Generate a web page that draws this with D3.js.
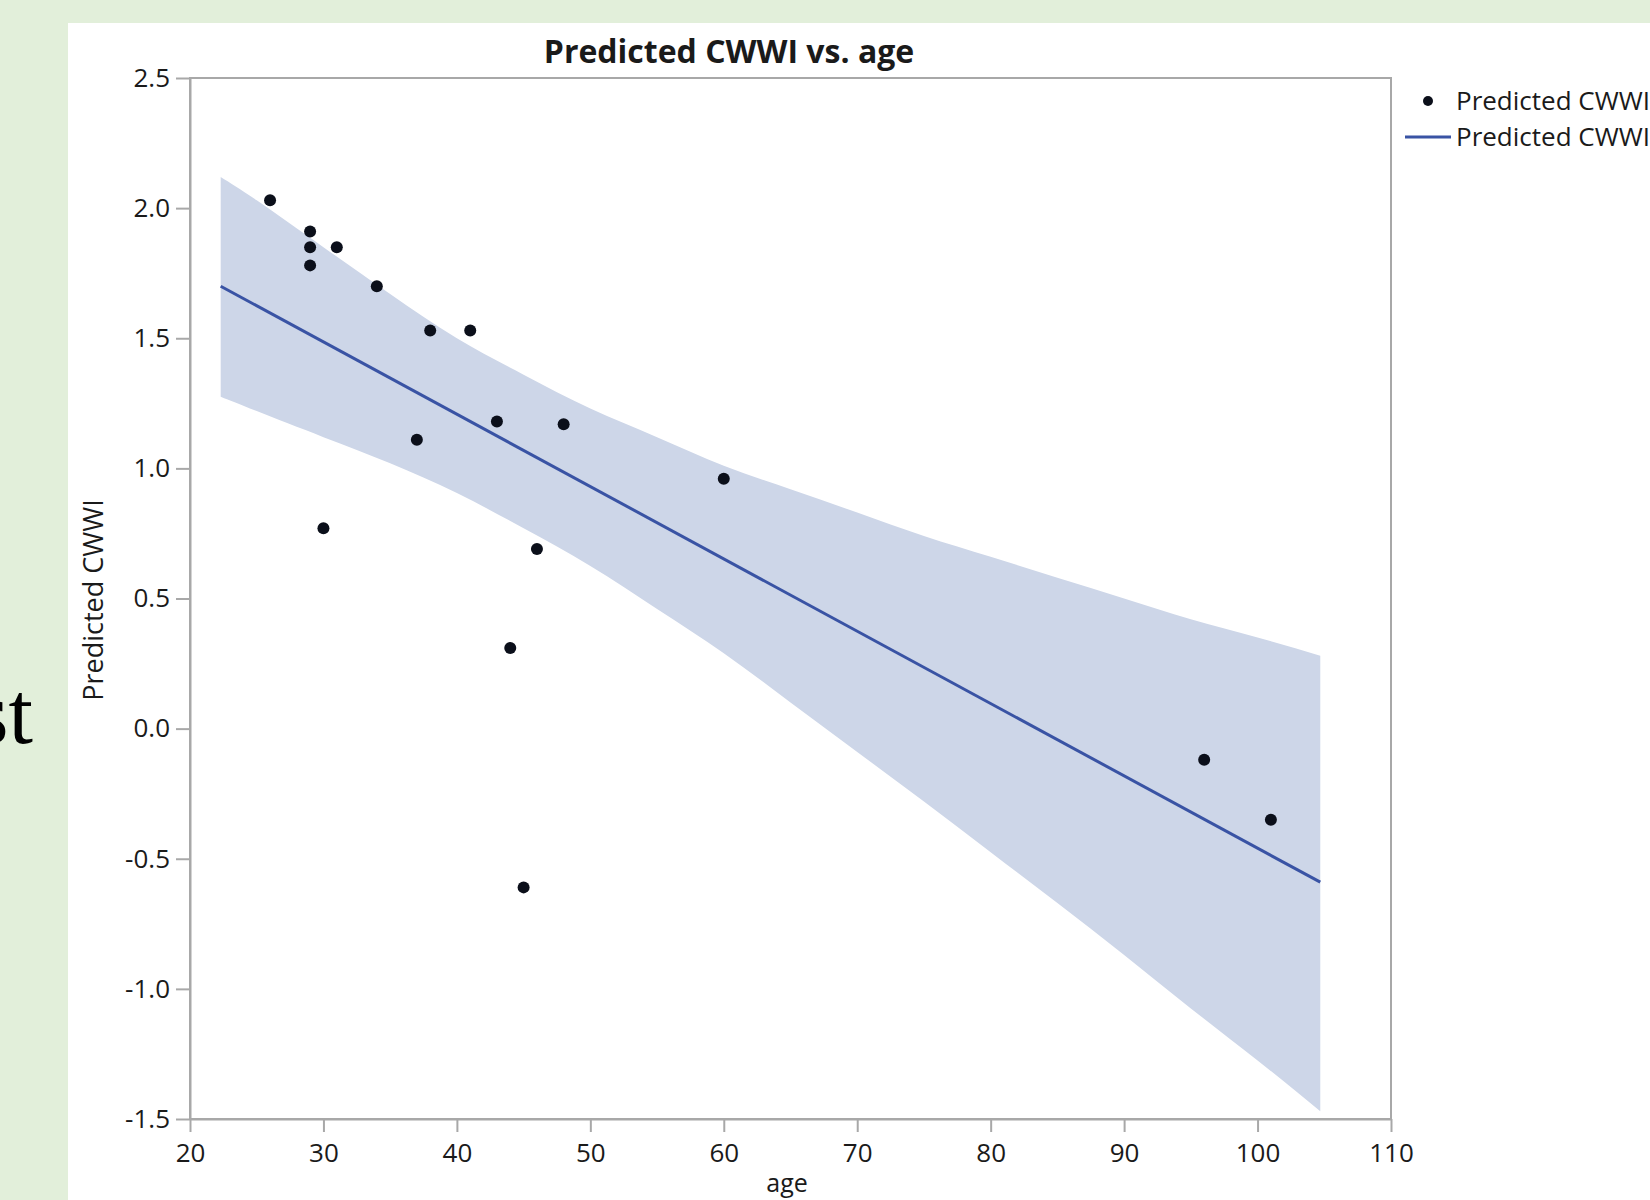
<!DOCTYPE html>
<html>
<head>
<meta charset="utf-8">
<script src="https://cdn.jsdelivr.net/npm/d3@7"></script>
<style>
  body { margin: 0; }
  svg text { font-family: "Open Sans", "Noto Sans", sans-serif; fill: #1a1a1a; }
</style>
</head>
<body>
<svg width="1650" height="1200"></svg>
<script>
// **** Data ****

var ages = [26, 29, 29, 29, 31, 34, 38, 41, 37, 43, 48, 60, 30, 46, 44, 45, 96, 101];
var cwwi = [2.03, 1.91, 1.85, 1.78, 1.85, 1.70, 1.53, 1.53, 1.11, 1.18, 1.17, 0.96, 0.77, 0.69, 0.31, -0.61, -0.12, -0.35];

// fitted line end points
var fitAges = [22.3, 104.7];
var fitValues = [1.70, -0.59];

// confidence band, read every 5 years
var bandAges  = [22.3, 25, 30, 35, 40, 45, 50, 55, 60, 65, 70, 75, 80, 85, 90, 95, 100, 104.7];
var bandUpper = [2.12, 2.03, 1.85, 1.67, 1.50, 1.36, 1.23, 1.12, 1.01, 0.92, 0.83, 0.74, 0.66, 0.58, 0.50, 0.42, 0.35, 0.28];
var bandLower = [1.275, 1.22, 1.12, 1.02, 0.905, 0.77, 0.625, 0.46, 0.29, 0.10, -0.09, -0.28, -0.475, -0.67, -0.87, -1.075, -1.275, -1.47];

var xTicks = [20, 30, 40, 50, 60, 70, 80, 90, 100, 110];
var yTicks = [-1.5, -1.0, -0.5, 0.0, 0.5, 1.0, 1.5, 2.0, 2.5];

// **** Scales ****

var xScale = d3.scaleLinear().domain([20, 110]).range([190, 1391]);
var yScale = d3.scaleLinear().domain([-1.5, 2.5]).range([1119, 78]);

var svg = d3.select("svg");

// slide background + white graph panel
svg.append("rect")
    .attr("width", 1650)
    .attr("height", 1200)
    .style("fill", "#e2efda");

svg.append("rect")
    .attr("x", 68)
    .attr("y", 23)
    .attr("width", 1582)
    .attr("height", 1177)
    .style("fill", "#ffffff");

// leftover slide text on the left
svg.append("text")
    .attr("x", 33)
    .attr("y", 743)
    .attr("text-anchor", "end")
    .style("font-family", "'Liberation Serif', serif")
    .style("font-size", "88px")
    .style("fill", "#000")
    .text("st");

// **** Band, line and points ****

var band = bandAges.map(function(a, i) { return { age: a, lo: bandLower[i], hi: bandUpper[i] }; });

svg.append("path")
    .datum(band)
    .attr("d", d3.area()
        .curve(d3.curveNatural)
        .x(function(d) { return xScale(d.age); })
        .y0(function(d) { return yScale(d.lo); })
        .y1(function(d) { return yScale(d.hi); }))
    .style("fill", "#cdd6e8");

var fit = fitAges.map(function(a, i) { return { age: a, v: fitValues[i] }; });

svg.append("path")
    .datum(fit)
    .attr("d", d3.line()
        .x(function(d) { return xScale(d.age); })
        .y(function(d) { return yScale(d.v); }))
    .style("fill", "none")
    .style("stroke", "#3953a4")
    .style("stroke-width", 3);

var points = ages.map(function(a, i) { return { age: a, v: cwwi[i] }; });

svg.selectAll("circle.pt")
    .data(points)
    .enter()
    .append("circle")
    .attr("class", "pt")
    .attr("cx", function(d) { return xScale(d.age); })
    .attr("cy", function(d) { return yScale(d.v); })
    .attr("r", 6)
    .style("fill", "#0b0f1a");

// **** Axes and frame ****

svg.append("rect")
    .attr("x", 190)
    .attr("y", 78)
    .attr("width", 1391 - 190)
    .attr("height", 1119 - 78)
    .style("fill", "none")
    .style("stroke", "#a8a8a8")
    .style("stroke-width", 2);

var xAxis = svg.append("g")
    .attr("transform", "translate(0,1119)")
    .call(d3.axisBottom(xScale).tickValues(xTicks).tickSize(13).tickSizeOuter(0).tickPadding(12)
        .tickFormat(function(d) { return d; }));

var yAxis = svg.append("g")
    .attr("transform", "translate(190,0)")
    .call(d3.axisLeft(yScale).tickValues(yTicks).tickSize(14).tickSizeOuter(0).tickPadding(6)
        .tickFormat(function(d) { return d.toFixed(1); }));

[xAxis, yAxis].forEach(function(ax) {
    ax.select(".domain").style("stroke", "#a8a8a8").style("stroke-width", 2);
    ax.selectAll(".tick line").style("stroke", "#a8a8a8").style("stroke-width", 2);
    ax.selectAll(".tick text")
        .style("font-family", "'Open Sans', sans-serif")
        .style("font-size", "26px")
        .style("fill", "#1a1a1a");
});

// **** Labels ****

svg.append("text")
    .attr("x", 729)
    .attr("y", 63)
    .attr("text-anchor", "middle")
    .style("font-size", "32px")
    .style("font-weight", "bold")
    .text("Predicted CWWI vs. age");

svg.append("text")
    .attr("transform", "translate(103,600) rotate(-90)")
    .attr("text-anchor", "middle")
    .style("font-size", "27px")
    .text("Predicted CWWI");

svg.append("text")
    .attr("x", 787)
    .attr("y", 1192)
    .attr("text-anchor", "middle")
    .style("font-size", "25px")
    .text("age");

// **** Legend ****

svg.append("circle")
    .attr("cx", 1428)
    .attr("cy", 101)
    .attr("r", 5)
    .style("fill", "#0b0f1a");

svg.append("line")
    .attr("x1", 1405)
    .attr("x2", 1451)
    .attr("y1", 137)
    .attr("y2", 137)
    .style("stroke", "#3953a4")
    .style("stroke-width", 3);

svg.append("text")
    .attr("x", 1456)
    .attr("y", 101)
    .attr("dy", "0.35em")
    .style("font-size", "26px")
    .text("Predicted CWWI");

svg.append("text")
    .attr("x", 1456)
    .attr("y", 137)
    .attr("dy", "0.35em")
    .style("font-size", "26px")
    .text("Predicted CWWI");
</script>
</body>
</html>
